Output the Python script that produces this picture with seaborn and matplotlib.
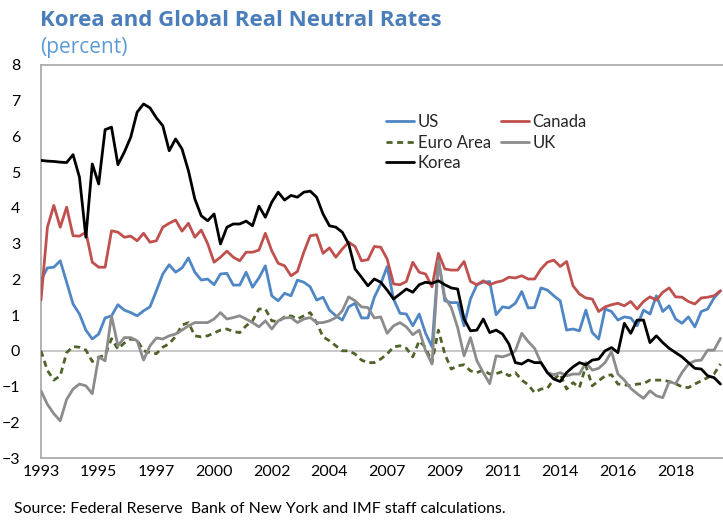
import numpy as np
import pandas as pd
import matplotlib
matplotlib.use("Agg")
import matplotlib.pyplot as plt
import seaborn as sns

# quarterly values, 1993Q1 onwards
us = [1.98, 2.32, 2.34, 2.52, 1.92, 1.31, 1.03, 0.58, 0.33, 0.47, 0.92, 0.98, 1.29, 1.14,
      1.07, 0.98, 1.12, 1.23, 1.68, 2.15, 2.41, 2.20, 2.32, 2.60, 2.20, 1.98, 2.01, 1.85,
      2.15, 2.17, 1.84, 1.84, 2.20, 1.78, 2.04, 2.38, 1.54, 1.40, 1.61, 1.54, 1.98, 1.92,
      1.79, 1.42, 1.50, 1.14, 0.98, 0.86, 1.23, 1.33, 0.92, 0.92, 1.50, 1.87,
      2.36, 1.45, 1.05, 1.03, 0.70, 1.03, 0.49, 0.11, 2.57, 1.40, 1.35, 1.35, 0.70, 1.45,
      1.85, 1.92, 1.94, 1.01, 1.23, 1.20, 1.33, 1.66, 1.20, 1.21, 1.76, 1.70,
      1.54, 1.40, 0.58, 0.61, 0.56, 1.14, 0.51, 0.33, 1.17, 1.10, 0.86, 0.95, 0.92, 0.70,
      1.14, 1.03, 1.54, 1.10, 1.26, 0.89, 0.77, 0.95, 0.67, 1.10, 1.17, 1.48, 1.68]

canada = [1.42, 3.46, 4.07, 3.46, 4.02, 3.22, 3.21, 3.32, 2.48, 2.34, 2.34, 3.36, 3.32, 3.18,
          3.21, 3.08, 3.29, 3.04, 3.08, 3.46, 3.57, 3.66, 3.35, 3.57, 3.18, 3.38, 3.00, 2.48,
          2.62, 2.79, 2.62, 2.52, 2.76, 2.76, 2.82, 3.29, 2.80, 2.45, 2.38, 2.10, 2.22, 2.76,
          3.22, 3.25, 2.73, 2.88, 2.62, 2.85, 3.04, 2.92, 2.52, 2.55, 2.92, 2.90,
          2.57, 1.87, 1.85, 1.94, 2.48, 2.20, 2.15, 1.79, 2.73, 2.29, 2.26, 2.26, 2.50, 1.94,
          1.85, 1.96, 1.85, 1.92, 1.96, 2.06, 2.04, 2.10, 2.01, 2.01, 2.29, 2.48,
          2.54, 2.36, 2.50, 1.82, 1.59, 1.48, 1.45, 1.10, 1.23, 1.29, 1.33, 1.26, 1.38, 1.17,
          1.38, 1.51, 1.42, 1.64, 1.76, 1.51, 1.50, 1.38, 1.31, 1.48, 1.50, 1.54, 1.68]

euro = [0.00, -0.55, -0.82, -0.70, -0.05, 0.12, 0.10, 0.02, -0.30, -0.18, -0.12, 0.34, 0.05, 0.22,
        0.33, 0.30, 0.00, -0.05, -0.08, 0.10, 0.20, 0.40, 0.72, 0.79, 0.42, 0.39, 0.42, 0.50,
        0.58, 0.61, 0.54, 0.51, 0.70, 0.84, 1.17, 1.17, 0.84, 0.82, 0.95, 0.98, 0.89, 0.98,
        1.07, 0.79, 0.39, 0.28, 0.14, 0.00, 0.00, -0.09, -0.26, -0.33, -0.33, -0.23,
        -0.09, 0.11, 0.14, 0.07, -0.17, 0.28, 0.09, -0.33, 0.58, -0.09, -0.51, -0.42, -0.39, -0.56,
        -0.61, -0.54, -0.65, -0.64, -0.58, -0.70, -0.61, -0.82, -0.95, -1.17, -1.07, -1.05,
        -0.79, -0.65, -1.07, -0.89, -1.03, -0.42, -0.98, -0.84, -0.70, -0.67, -0.93, -0.95, -0.98, -0.93,
        -0.92, -0.82, -0.82, -0.82, -0.86, -0.92, -1.01, -1.03, -0.93, -0.84, -0.75, -0.65, -0.37]

uk = [-1.12, -1.50, -1.76, -1.96, -1.36, -1.07, -0.93, -0.98, -1.20, -0.17, -0.28, 0.98, 0.14, 0.37,
      0.37, 0.28, -0.26, 0.14, 0.36, 0.33, 0.42, 0.47, 0.58, 0.70, 0.79, 0.79, 0.79, 0.89,
      1.07, 0.89, 0.93, 0.98, 0.89, 0.79, 0.67, 0.84, 0.61, 0.84, 0.92, 0.93, 0.79, 0.89,
      0.93, 0.79, 0.79, 0.84, 0.93, 1.12, 1.51, 1.40, 1.23, 1.21, 0.92, 0.95,
      0.49, 0.70, 0.79, 0.67, 0.45, 0.58, 0.00, -0.37, 2.52, 1.50, 1.21, 0.65, -0.14, 0.37,
      -0.28, -0.61, -0.92, -0.14, -0.17, -0.11, 0.00, 0.49, 0.26, 0.07, -0.33, -0.61,
      -0.67, -0.61, -0.70, -0.65, -0.65, -0.33, -0.54, -0.49, -0.33, -0.02, -0.65, -0.82, -1.05, -1.20,
      -1.33, -1.12, -1.26, -1.31, -0.86, -0.92, -0.61, -0.37, -0.28, -0.26, 0.02, 0.02, 0.35]

korea = [5.33, 5.31, 5.30, 5.28, 5.27, 5.49, 4.86, 3.18, 5.23, 4.67, 6.19, 6.26, 5.21, 5.56,
         5.98, 6.68, 6.91, 6.80, 6.52, 6.30, 5.60, 5.93, 5.65, 5.04, 4.25, 3.78, 3.64, 3.83,
         2.99, 3.46, 3.55, 3.55, 3.63, 3.50, 4.05, 3.74, 4.16, 4.44, 4.22, 4.35, 4.30, 4.44,
         4.47, 4.30, 3.83, 3.50, 3.46, 3.32, 2.99, 2.29, 2.06, 1.82, 2.01, 1.92,
         1.70, 1.45, 1.59, 1.73, 1.64, 1.85, 1.92, 1.89, 1.96, 1.85, 1.76, 1.73, 0.89, 0.56,
         0.58, 0.89, 0.51, 0.58, 0.47, 0.19, -0.33, -0.37, -0.26, -0.33, -0.33, -0.61,
         -0.79, -0.86, -0.61, -0.45, -0.33, -0.39, -0.26, -0.23, 0.00, 0.09, -0.05, 0.77, 0.49, 0.86,
         0.86, 0.23, 0.42, 0.23, 0.07, -0.05, -0.17, -0.33, -0.49, -0.51, -0.70, -0.75, -0.93]

series_names = ["US", "Canada", "Euro Area", "UK", "Korea"]
year_labels = ["1993", "1995", "1997", "2000", "2002", "2004", "2007", "2009",
               "2011", "2014", "2016", "2018"]

colors = {"US": "#4f86c6", "Canada": "#c0504d", "Euro Area": "#4f6228",
          "UK": "#8c8c8c", "Korea": "#000000"}
dashes = {"US": "", "Canada": "", "Euro Area": (2.2, 1.6), "UK": "", "Korea": ""}

frames = []
for name, vals in zip(series_names, [us, canada, euro, uk, korea]):
    frames.append(pd.DataFrame({"q": np.arange(len(vals)), "value": vals, "series": name}))
df = pd.concat(frames, ignore_index=True)

sns.set_style("white")
plt.rcParams["font.family"] = ["Lato", "DejaVu Sans"]

fig = plt.figure(figsize=(7.23, 5.2), dpi=100)
ax = fig.add_axes([41 / 723, 62 / 520, 690 / 723, 393 / 520])

ax.axhline(0, color="#bfbfbf", lw=1.2, zorder=1)
sns.lineplot(data=df, x="q", y="value", hue="series", style="series",
             palette=colors, dashes=dashes, linewidth=2.0, ax=ax, legend=False, zorder=3)

ax.set_xlim(0, 690 / 6.41)
ax.set_ylim(-3, 8)
ax.set_yticks(range(-3, 9))
ax.set_xticks(np.arange(0, 9 * len(year_labels), 9))
ax.set_xticklabels(year_labels)
ax.tick_params(axis="both", length=0, labelsize=11.5, colors="#000000")
ax.tick_params(axis="y", pad=15)
ax.tick_params(axis="x", pad=5)
for lbl in ax.get_yticklabels():
    lbl.set_horizontalalignment("right")
ax.set_xlabel("")
ax.set_ylabel("")

for s in ["left", "top", "bottom"]:
    ax.spines[s].set_color("#a6a6a6")
    ax.spines[s].set_linewidth(1.2)
ax.spines["right"].set_visible(False)

# legend, row order US/Canada, Euro Area/UK, Korea
order = ["US", "Euro Area", "Korea", "Canada", "UK"]
handles = [plt.Line2D([], [], color=colors[n], lw=2.0,
                      linestyle=(0, dashes[n]) if dashes[n] else "-") for n in order]
fig.legend(handles, order, ncol=2, frameon=False, fontsize=12,
           handlelength=1.7, handletextpad=0.2, columnspacing=0.6, labelspacing=0.28,
           borderpad=0, borderaxespad=0,
           loc="upper left", bbox_to_anchor=(386 / 723, 1 - 114 / 520))

fig.text(40 / 723, 1 - 20 / 520, "Korea and Global Real Neutral Rates", fontsize=16,
         fontweight="bold", color="#4a7ebb", family=["Open Sans", "DejaVu Sans"], va="center")
fig.text(40 / 723, 1 - 48 / 520, "(percent)", fontsize=15, color="#5b9bd5",
         family=["Open Sans", "DejaVu Sans"], va="center")
fig.text(14 / 723, 1 - 509 / 520,
         "Source: Federal Reserve  Bank of New York and IMF staff calculations.",
         fontsize=11.4, color="#000000", va="center")

fig.savefig("out.png", dpi=100)
